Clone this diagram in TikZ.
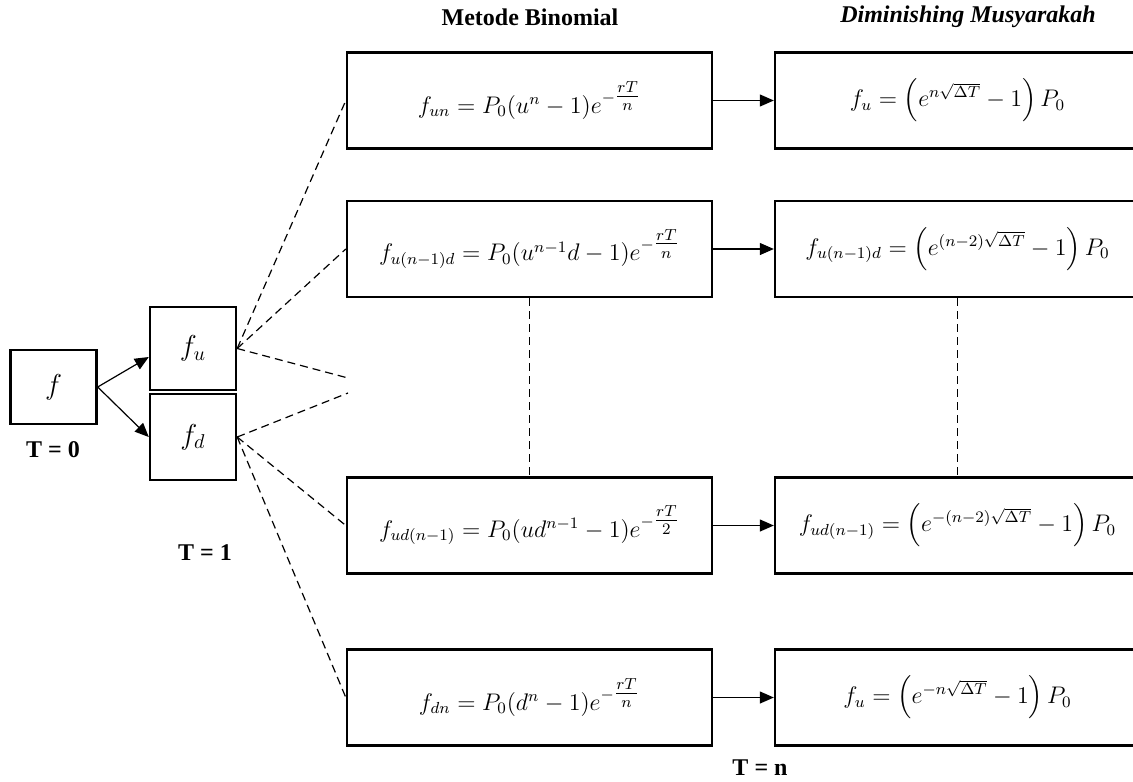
\documentclass[tikz,border=0pt]{standalone}
\usepackage{amsmath}
\usepackage{fontspec}
\setmainfont{Liberation Serif}
\usetikzlibrary{arrows.meta,calc}
\newcommand{\efr}[2]{\genfrac{}{}{}{1}{#1}{#2}}
\tikzset{
  box/.style={draw, line width=1.2pt, inner sep=0pt, font=\fontsize{12}{14}\selectfont},
  smallbox/.style={box, minimum width=43pt, font=\fontsize{14}{16}\selectfont},
  bigbox/.style={box, minimum width=182.5pt, minimum height=48pt},
  arr/.style={line width=0.6pt, -{Triangle[length=7pt,width=6pt]}},
  dashline/.style={line width=0.6pt, dash pattern=on 4pt off 2.5pt},
  lbl/.style={font=\fontsize{12}{14}\selectfont\bfseries, inner sep=0pt},
}
\begin{document}
\begin{tikzpicture}[x=0.5pt,y=-0.5pt]
\useasboundingbox (0,0) rectangle (1133,781);
% titles
\node[lbl] (t1) at (530,17) {Metode Binomial};
\node[lbl] (t2) at (968,17) {\itshape Diminishing Musyarakah};
% left tree
\node[smallbox, minimum height=37pt] (f) at (53.5,387) {$f$};
\node[smallbox, minimum height=41.5pt] (fu) at (193,348.5) {$f_u$};
\node[smallbox, minimum height=43pt] (fd) at (193,437) {$f_d$};
\node[lbl] (T0) at (53,450) {T = 0};
\node[lbl] (T1) at (205,553) {T = 1};
\node[lbl] (Tn) at (760,768) {T = n};
% main column
\node[bigbox] (b1) at (529.5,100.5) {$f_{un} = P_0(u^n - 1)e^{-\efr{rT}{n}}$};
\node[bigbox] (b2) at (529.5,249) {$f_{u(n-1)d} = P_0(u^{n-1}d - 1)e^{-\efr{rT}{n}}$};
\node[bigbox] (b3) at (529.5,525.5) {$f_{ud(n-1)} = P_0(ud^{n-1} - 1)e^{-\efr{rT}{2}}$};
\node[bigbox] (b4) at (529.5,697.5) {$f_{dn} = P_0(d^n - 1)e^{-\efr{rT}{n}}$};
% right column
\node[bigbox] (r1) at (957.5,100.5) {$f_u = \left(e^{n\sqrt{\Delta T}} - 1\right)P_0$};
\node[bigbox] (r2) at (957.5,249) {$f_{u(n-1)d} = \left(e^{(n-2)\sqrt{\Delta T}} - 1\right)P_0$};
\node[bigbox] (r3) at (957.5,525.5) {$f_{ud(n-1)} = \left(e^{-(n-2)\sqrt{\Delta T}} - 1\right)P_0$};
\node[bigbox] (r4) at (957.5,697.5) {$f_u = \left(e^{-n\sqrt{\Delta T}} - 1\right)P_0$};
% free ends
\coordinate (e1) at (348,378);
\coordinate (e2) at (348,393);
% arrows from f
\draw[arr] (f.east) -- ([yshift=-4.25pt]fu.west);
\draw[arr] (f.east) -- (fd.west);
% dashed fans
\draw[dashline] (fu.east) -- (b1.west);
\draw[dashline] (fu.east) -- (b2.west);
\draw[dashline] (fu.east) -- (e1);
\draw[dashline] (fd.east) -- (e2);
\draw[dashline] (fd.east) -- (b3.west);
\draw[dashline] (fd.east) -- (b4.west);
% horizontal arrows
\draw[arr] (b1.east) -- (r1.west);
\draw[arr] (b2.east) -- (r2.west);
\draw[arr] (b3.east) -- (r3.west);
\draw[arr] (b4.east) -- (r4.west);
% vertical dashed
\draw[dashline] (b2.south) -- (b3.north);
\draw[dashline] (r2.south) -- (r3.north);
\end{tikzpicture}
\end{document}
